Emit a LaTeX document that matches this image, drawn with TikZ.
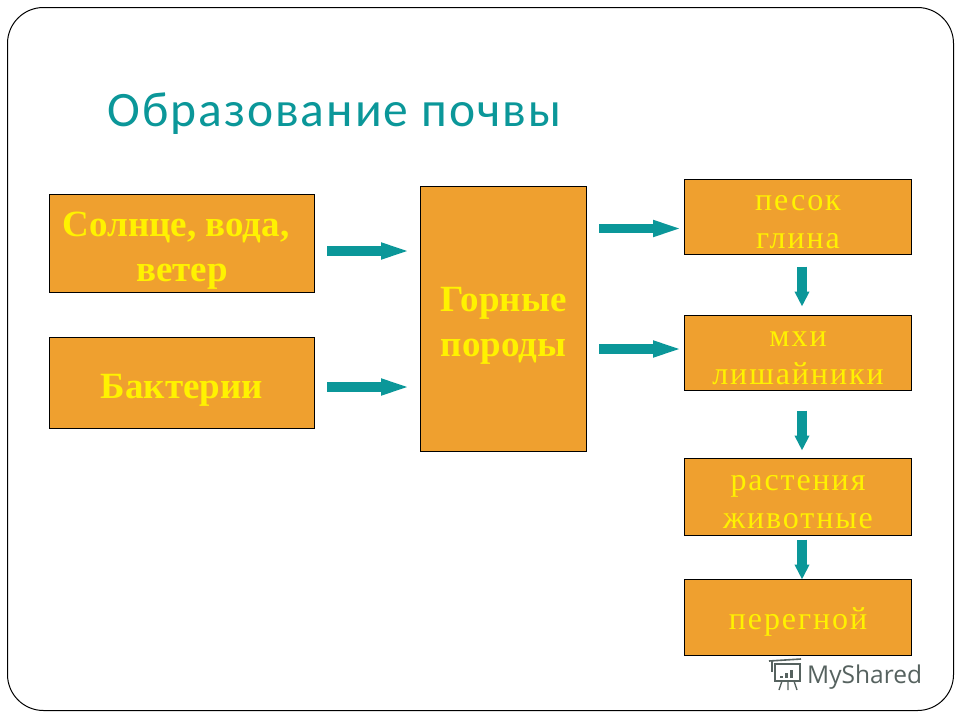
\documentclass[tikz,border=0pt]{standalone}
\usepackage{fontspec}
\setmainfont{Liberation Serif}
\newfontfamily\titlefont[LetterSpace=4]{Carlito}
\newfontfamily\markfont{Open Sans}
\newfontfamily\softfont[LetterSpace=6]{Liberation Serif}
\usetikzlibrary{arrows.meta}
\definecolor{boxorange}{HTML}{EFA02F}
\definecolor{labelyellow}{HTML}{FFF200}
\definecolor{flowteal}{HTML}{0B9799}
\definecolor{marksgray}{HTML}{56625F}
\tikzset{
  srcbox/.style={draw=black, fill=boxorange, line width=1pt, inner sep=0pt, align=center,
    text height=39pt, text=labelyellow, font=\bfseries\fontsize{37}{45}\selectfont},
  stagebox/.style={draw=black, fill=boxorange, line width=1pt, inner sep=0pt, align=center,
    text depth=0pt, minimum width=227pt, text=labelyellow, font=\softfont\fontsize{32}{38}\selectfont},
  flowarrow/.style={draw=flowteal, line width=9.5pt, -{Triangle[length=33pt,width=14pt]}},
  dropflow/.style={draw=flowteal, line width=9.5pt, -{Triangle[length=15pt,width=14pt]}},
}
\begin{document}
\begin{tikzpicture}[x=1pt,y=-1pt]
    \useasboundingbox (0,0) rectangle (960,720);
    \fill[white] (0,0) rectangle (960,720);
    \draw[line width=1pt, rounded corners=36pt] (7.5,7.5) rectangle (953.5,710.5);
    \node[anchor=west, text=flowteal, font=\titlefont\fontsize{49.5}{52}\selectfont] (title) at (104,114) {Образование почвы};
    % left column
    \node[srcbox, text height=84pt, minimum width=265pt, minimum height=98pt] (sun) at (182,243) {Солнце, вода,\kern12pt\\ветер};
    \node[srcbox, minimum width=265pt, minimum height=91pt] (bact) at (182,383) {Бактерии};
    \node[srcbox, text height=83pt, minimum width=166pt, minimum height=265pt] (rock) at (503.5,318.5) {Горные\\породы};
    % right column
    \foreach \name/\y/\h/\lift/\txt in {sand/216.5/75/63/{песок\\глина},moss/352.5/75/63/{мхи\\лишайники},
              plant/496.5/77/63/{растения\\животные},humus/617/76/25/{перегной}}
    \node[stagebox, text height=\lift pt, minimum height=\h pt] (\name) at (798,\y) {\txt};
    % arrows
    \foreach \a/\b/\dy in {sun/rock/-8,bact/rock/-4}
    \draw[flowarrow, shorten <=12pt, shorten >=6pt] ([yshift=\dy pt]\a.east) -- ([yshift=\dy pt]\a.east -| \b.west);
    \foreach \b/\dy in {sand/-12,moss/3.5}
    \draw[flowarrow, shorten <=12pt, shorten >=-2pt] ([yshift=\dy pt]\b.west -| rock.east) -- ([yshift=\dy pt]\b.west);
    \foreach \a/\b/\s/\e in {sand/moss/12/8,moss/plant/20/7,plant/humus/4/-1}
    \draw[dropflow, shorten <=\s pt, shorten >=\e pt] ([xshift=4pt]\a.south) -- ([xshift=4pt]\a.south |- \b.north);
    % watermark
    \node[anchor=base west, inner sep=0pt, text=marksgray, font=\markfont\fontsize{24.5}{27}\selectfont] (mark) at (807,683) {MyShared};
    \draw[marksgray, line width=1.6pt] (775,664) rectangle (800,681);
    \draw[marksgray, line width=1.6pt] (769,661) -- (801,659);
    \draw[marksgray, line width=1.6pt] (772,660) -- (772,672);
    \draw[marksgray, line width=1.3pt] (782,681) -- (779,690) (788,681) -- (788,690) (794,681) -- (797,690);
    \foreach \x/\t in {780/676,785/673,790/670}
    \fill[marksgray, shift={(\x,\t)}] (0,0) rectangle (3,678-\t);
  \end{tikzpicture}
\end{document}
